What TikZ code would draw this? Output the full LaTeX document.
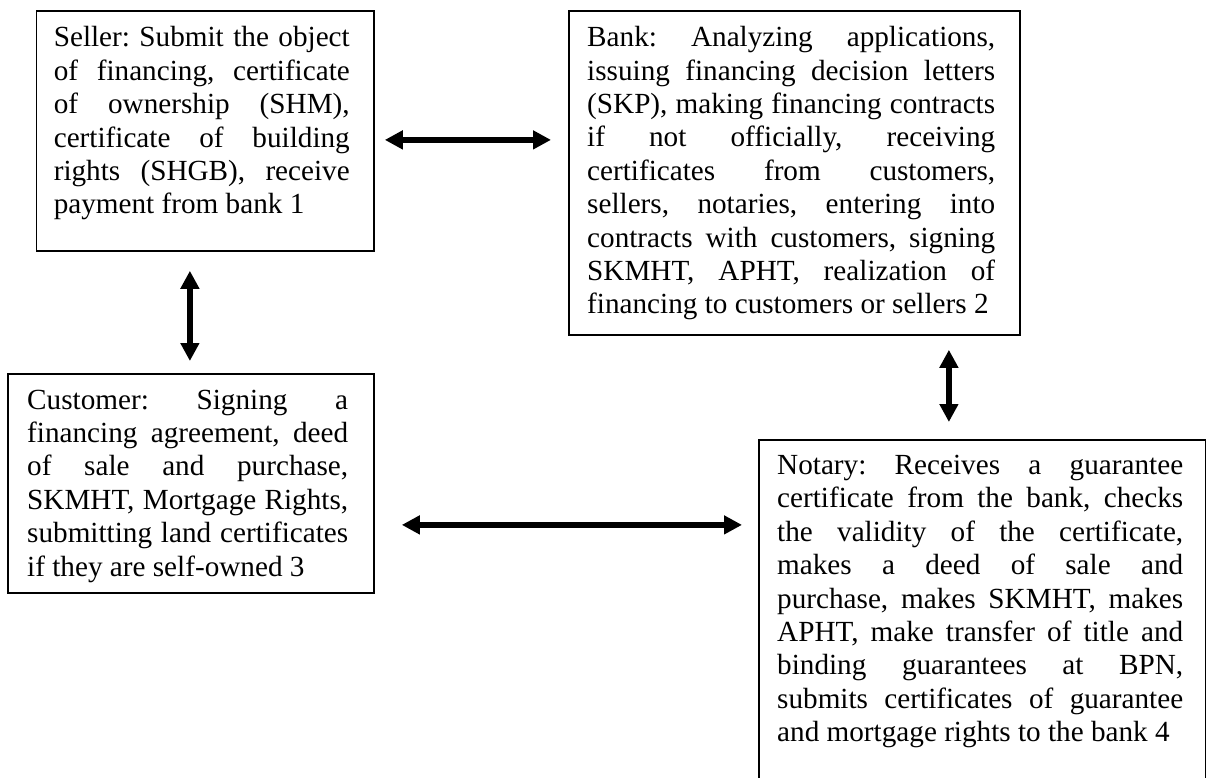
\documentclass[tikz,border=0pt]{standalone}
\usepackage{fontspec}
\setmainfont{Liberation Serif}
\usetikzlibrary{arrows.meta}
\hbadness=10000
\hfuzz=20pt
\frenchspacing
% width of the current text column
\newdimen\colw
% a justified line spread to the column width, and a final line at its natural width
\newcommand\jfull[1]{\hbox to\colw{\spaceskip=0pt\xspaceskip=0pt\strut #1}}
\newcommand\jlast[1]{\hbox{\spaceskip=0pt\xspaceskip=0pt\strut #1}}
\begin{document}
\begin{tikzpicture}[x=1pt,y=-1pt,
  box/.style={draw, line width=1.8pt, inner sep=0pt, anchor=north west},
  txt/.style={inner sep=0pt, anchor=north west, align=justify,
    font=\fontsize{29.2}{33.4}\selectfont\frenchspacing},
  link/.style={line width=6.5pt,
    {Triangle[length=18pt,width=18pt]}-{Triangle[length=18pt,width=18pt]}}]
\clip (0,0) rectangle (1206,778);

% frames of the four parties
\node[box, minimum width=337.4pt, minimum height=240pt] (seller) at (35.6,10) {};
\node[box, minimum width=451pt, minimum height=324pt] (bank) at (568,10) {};
\node[box, minimum width=366pt, minimum height=219pt] (customer) at (7,373) {};
\node[box, minimum width=447pt, minimum height=380pt] (notary) at (758,439) {};

% their duties
\node[txt, text width=296pt] (sellertext) at (53.6,23.3) {\colw=296pt
\jfull{Seller: Submit the object}
\jfull{of financing, certificate}
\jfull{of ownership (SHM),}
\jfull{certificate of building}
\jfull{rights (SHGB), receive}
\jlast{payment from bank 1}};

\node[txt, text width=408pt] (banktext) at (587,23.1) {\colw=408pt
\jfull{Bank: Analyzing applications,}
\jfull{issuing financing decision letters}
\jfull{(SKP), making financing contracts}
\jfull{if not officially, receiving}
\jfull{certificates from customers,}
\jfull{sellers, notaries, entering into}
\jfull{contracts with customers, signing}
\jfull{SKMHT, APHT, realization of}
\jlast{financing to customers or sellers 2}};

\node[txt, text width=321pt] (customertext) at (27,385.6) {\colw=321pt
\jfull{Customer: Signing a}
\jfull{financing agreement, deed}
\jfull{of sale and purchase,}
\jfull{SKMHT, Mortgage Rights,}
\jfull{submitting land certificates}
\jlast{if they are self-owned 3}};

\node[txt, text width=406pt] (notarytext) at (777,451) {\colw=406pt
\jfull{Notary: Receives a guarantee}
\jfull{certificate from the bank, checks}
\jfull{the validity of the certificate,}
\jfull{makes a deed of sale and}
\jfull{purchase, makes SKMHT, makes}
\jfull{APHT, make transfer of title and}
\jfull{binding guarantees at BPN,}
\jfull{submits certificates of guarantee}
\jlast{and mortgage rights to the bank 4}};

% two-way links between the parties
\coordinate (sb) at ([yshift=-9pt]seller.east);
\draw[link, shorten <=10pt, shorten >=17pt] (sb) -- (sb -| bank.west);

\coordinate (sc) at ([xshift=-15.3pt]seller.south);
\draw[link, shorten <=19pt, shorten >=12pt] (sc) -- (sc |- customer.north);

\coordinate (bn) at ([xshift=154.5pt]bank.south);
\draw[link, shorten <=14pt, shorten >=17pt] (bn) -- (bn |- notary.north);

\coordinate (cn) at ([yshift=-41.5pt]customer.east);
\draw[link, shorten <=27pt, shorten >=16pt] (cn) -- (cn -| notary.west);
\end{tikzpicture}
\end{document}
